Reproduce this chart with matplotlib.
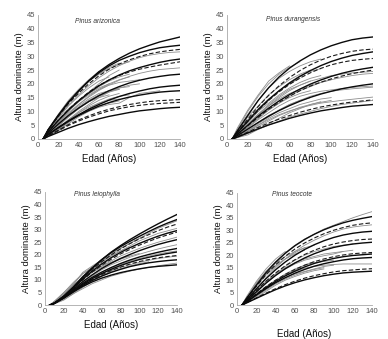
import matplotlib
matplotlib.use("Agg")
import matplotlib.pyplot as plt

AGES = [5, 10, 20, 30, 40, 50, 60, 70, 80, 90, 100, 110, 120, 130, 140]
XTICKS = [0, 20, 40, 60, 80, 100, 120, 140]
YTICKS = [0, 5, 10, 15, 20, 25, 30, 35, 40, 45]
TITLES = ["Pinus arizonica", "Pinus durangensis", "Pinus leiophylla", "Pinus teocote"]
XLABEL = "Edad (Años)"
YLABEL = "Altura dominante (m)"

# ---- Pinus arizonica ----
ari_solid = [
    [0, 3.3, 8.5, 13.3, 17.4, 21.1, 24.4, 27.0, 29.2, 31.1, 32.7, 34.0, 35.2, 36.1, 37.0],
    [0, 3.4, 8.6, 13.4, 17.4, 21.0, 24.0, 26.5, 28.5, 30.0, 31.3, 32.3, 33.1, 33.6, 34.0],
    [0, 2.6, 6.7, 10.5, 13.8, 16.7, 19.3, 21.4, 23.2, 24.7, 25.9, 26.9, 27.8, 28.5, 29.0],
    [0, 2.1, 5.4, 8.5, 11.2, 13.6, 15.7, 17.5, 19.0, 20.3, 21.3, 22.1, 22.7, 23.2, 23.5],
    [0, 1.6, 4.2, 6.6, 8.8, 10.8, 12.5, 14.1, 15.4, 16.5, 17.4, 18.2, 18.8, 19.2, 19.5],
    [0, 1.6, 4.0, 6.4, 8.5, 10.3, 11.9, 13.2, 14.3, 15.2, 15.9, 16.5, 17.0, 17.3, 17.5],
    [0, 0.9, 2.4, 3.9, 5.2, 6.3, 7.3, 8.2, 8.9, 9.6, 10.2, 10.6, 11.0, 11.3, 11.5],
]
ari_dashed = [
    [0, 3.2, 8.2, 12.8, 16.6, 20.0, 22.9, 25.3, 27.2, 28.7, 29.9, 30.9, 31.6, 32.1, 32.5],
    [0, 2.6, 6.8, 10.7, 14.0, 17.0, 19.4, 21.4, 23.0, 24.3, 25.3, 26.1, 26.8, 27.4, 28.0],
    [0, 1.2, 3.2, 5.2, 6.9, 8.4, 9.7, 10.8, 11.7, 12.5, 13.1, 13.6, 13.9, 14.1, 14.3],
    [0, 1.1, 3.0, 4.9, 6.5, 7.9, 9.1, 10.2, 11.0, 11.7, 12.2, 12.6, 12.9, 13.1, 13.3],
]
ari_obs = [
    [0, 3.0, 7.8, 12.2, 16.0, 19.3, 22.2, 24.6, 26.6, 28.2, 29.5, 30.4, 31.0, 31.4, 31.6],
    [0, 2.3, 6.0, 9.5, 12.5, 15.2, 17.6, 19.6, 21.3, 22.7, 23.8, 24.6, 25.2, 25.5, 25.8],
    [0, 2, 6, 10, 14, 17, 20, 23, 25],
    [0, 3, 8, 13, 17, 21, 23.5, 26, 27.5],
    [0, 1.5, 5, 9, 12.5, 15.5, 18, 20, 21.5, 22.5],
    [0, 2.5, 7, 11, 14, 16.5, 18.5, 20],
    [0, 1.5, 4, 7, 10, 12.5, 15, 17, 18.5, 19.5, 20],
    [0, 1, 3.5, 6.5, 9.5, 12, 14, 15.5, 16.5],
    [0, 2, 5.5, 9, 12, 14.5, 16.5, 17.5, 18],
    [0, 1, 3, 5.5, 8, 10, 11.5, 12.5, 13, 15, 16.5, 17, 17.5],
    [0, 1.5, 4.5, 8, 11, 13.5, 15.5, 17, 18],
    [0, 2, 6, 10, 13.5, 16.5, 19, 21, 22.5, 23.5],
    [0, 3, 8.5, 13.5, 17.5, 21, 23.5, 25.5, 27, 28],
    [0, 1, 3, 6, 8.5, 11, 13, 14.5, 15.5, 16],
    [0, 2, 5, 8, 11, 13.5, 15, 16],
    [0, 1.5, 4, 7, 9.5, 11.5, 13, 14, 14.5],
    [0, 2.5, 6.5, 10.5, 13.5, 16, 18, 19.5, 20.5, 21, 21.5],
    [0, 2.8, 7.5, 12, 15.5, 18.5, 21, 22.5],
    [0, 1.8, 5, 8.5, 11.5, 14, 16, 17.5, 18.5, 19],
    [0, 3.5, 9, 14, 18, 21.5, 24.5],
    [0, 1.2, 3.5, 6, 8.5, 10.5, 12, 13, 13.8],
]

# ---- Pinus durangensis ----
dur_solid = [
    [0, 3.0, 8.5, 14.0, 18.6, 22.5, 25.7, 28.3, 30.5, 32.3, 33.8, 35.0, 36.0, 36.6, 37.0],
    [0, 2.3, 6.5, 10.7, 14.3, 17.5, 20.3, 22.7, 24.8, 26.6, 28.1, 29.3, 30.3, 31.0, 31.6],
    [0, 1.7, 5.0, 8.3, 11.2, 13.8, 16.1, 18.1, 19.9, 21.4, 22.7, 23.8, 24.7, 25.4, 26.0],
    [0, 1.2, 3.6, 6.0, 8.3, 10.3, 12.1, 13.7, 15.1, 16.3, 17.3, 18.2, 18.9, 19.5, 20.0],
    [0, 0.7, 2.2, 3.7, 5.1, 6.3, 7.5, 8.5, 9.4, 10.2, 10.8, 11.4, 11.9, 12.2, 12.5],
]
dur_dashed = [
    [0, 2.5, 7.2, 11.8, 15.8, 19.3, 22.3, 24.8, 26.9, 28.6, 30.0, 31.0, 31.8, 32.3, 32.6],
    [0, 2.2, 6.4, 10.4, 14.0, 17.1, 19.8, 22.1, 24.0, 25.6, 26.9, 27.8, 28.5, 28.9, 29.2],
    [0, 1.6, 4.8, 7.9, 10.8, 13.3, 15.5, 17.5, 19.2, 20.6, 21.8, 22.8, 23.7, 24.4, 25.0],
    [0, 0.8, 2.5, 4.2, 5.8, 7.2, 8.5, 9.7, 10.7, 11.6, 12.3, 12.9, 13.4, 13.8, 14.2],
]
dur_obs = [
    [0, 3.5, 10, 15.5, 20, 23.5, 26, 28],
    [0, 3, 9, 14, 18.5, 22, 24.5, 26.5, 28, 29],
    [0, 2, 6, 10, 14, 17.5, 20.5, 23, 24.5, 25.5],
    [0, 1.5, 5, 8.5, 12, 15, 17.5, 19.5, 21, 22, 23, 23.5, 24, 24.2, 24.5],
    [0, 1.5, 4.5, 7.5, 10.5, 13, 15.5, 17.5, 19, 20.5, 21.5, 22.3, 23, 23.5, 23.8],
    [0, 1, 3.5, 6, 8.5, 10.5, 12.5, 14, 15.5, 16.5, 17.3, 17.8, 18.2, 18.5, 18.8],
    [0, 1.2, 4, 7, 9.5, 12, 14, 15.5, 16.5, 17.3, 17.8, 18.3, 18.7, 19.0, 19.2],
    [0, 0.8, 2.8, 5, 7, 8.8, 10.2, 11.3, 12.2, 13, 13.5, 14, 14.4, 14.8, 15.2],
    [0, 0.5, 2, 3.5, 5, 6.5, 8, 9, 10, 11, 11.8, 12.5, 13, 13.5, 14],
    [0, 2.5, 7, 11, 14.5, 17.5, 20, 22],
    [0, 2, 5.5, 9, 12, 14.5, 16.5, 18, 19.5, 20.5, 21.5],
    [0, 1, 3, 5.5, 8, 10.5, 12.5, 14, 15],
    [0, 0.5, 1.5, 3.5, 5.5, 7.5, 9.5, 11, 12.5, 13.5],
    [0, 1.5, 5, 9, 12.5, 15.5, 18, 19.5, 21],
    [0, 2.5, 8, 12, 16, 19, 21.5, 23.5, 25],
    [0, 1, 3, 5, 7.5, 9.5, 11, 12.5, 13.5, 14.5, 15],
    [0, 4, 10.5, 16, 21, 24, 26.5],
    [0, 1.8, 6, 10, 13, 16, 18.5, 20.5, 22, 23],
    [0, 0.8, 2.5, 4.5, 6.5, 8.5, 10, 11.5, 12.5, 13.3, 14],
    [0, 1.3, 4.2, 7.5, 10.5, 13, 15, 16.5, 17.5],
]

# ---- Pinus leiophylla ----
lei_solid = [
    [0, 0.8, 3.5, 7.0, 11.0, 14.6, 18.0, 21.0, 23.6, 26.0, 28.2, 30.3, 32.3, 34.2, 36.0],
    [0, 0.8, 3.6, 7.2, 11.2, 14.8, 18.0, 20.8, 23.2, 25.3, 27.3, 29.2, 31.0, 32.6, 34.0],
    [0, 0.8, 3.4, 6.8, 10.3, 13.5, 16.3, 18.8, 20.9, 22.8, 24.5, 26.0, 27.4, 28.6, 29.6],
    [0, 0.7, 3.2, 6.2, 9.3, 12.0, 14.5, 16.6, 18.5, 20.1, 21.6, 22.9, 24.1, 25.1, 26.0],
    [0, 0.7, 3.0, 5.8, 8.6, 11.0, 13.1, 14.9, 16.5, 17.9, 19.1, 20.1, 21.0, 21.8, 22.5],
    [0, 0.7, 3.0, 5.6, 8.2, 10.5, 12.5, 14.2, 15.7, 17.0, 18.1, 19.0, 19.8, 20.5, 21.1],
    [0, 0.7, 2.9, 5.4, 7.8, 9.8, 11.5, 13.0, 14.2, 15.3, 16.1, 16.8, 17.3, 17.7, 18.0],
    [0, 0.7, 2.8, 5.2, 7.4, 9.2, 10.7, 11.9, 12.9, 13.7, 14.4, 15.0, 15.4, 15.7, 16.0],
]
lei_dashed = [
    [0, 0.8, 3.5, 7.0, 10.8, 14.2, 17.2, 19.9, 22.3, 24.4, 26.3, 28.0, 29.6, 31.0, 32.2],
    [0, 0.8, 3.4, 6.6, 10.0, 13.1, 15.8, 18.2, 20.3, 22.1, 23.8, 25.3, 26.7, 27.9, 29.0],
    [0, 0.7, 3.0, 5.5, 8.0, 10.2, 12.1, 13.7, 15.1, 16.3, 17.3, 18.1, 18.8, 19.3, 19.7],
]
lei_obs = [
    [0, 1, 4, 8, 13, 15.5, 18, 20.5, 22.5, 24.5, 26.5],
    [0, 1.5, 5, 8.5, 12.5, 15, 17.5, 19.5, 21.5, 23],
    [0, 1, 3.5, 7, 10, 13, 15.5, 17.5, 19.5, 21, 22.5, 23.8, 25, 26, 27],
    [0, 0.8, 3, 6, 9, 11.5, 14, 16, 17.5, 19, 20.2, 21.3, 22.3, 23.2, 24],
    [0, 0.5, 2.5, 5, 8, 10.5, 12.5, 14.5, 16, 17.5, 18.5, 19.5, 20.3, 21, 21.5],
    [0, 1.2, 4.5, 8, 11, 13.5, 15.5, 17, 18.5, 19.5, 20.5],
    [0, 0.5, 2, 4.5, 7, 9.5, 11.5, 13, 14.5, 15.5, 16.5, 17.2],
    [0, 1, 3.5, 6.5, 9, 11, 12.5, 14, 15],
    [0, 1.5, 4.5, 7.5, 11, 14, 17, 19.5, 21.5, 23.5, 25.5, 27, 28.5, 29.5, 30.5],
    [0, 1, 3.8, 7.5, 11.5, 14.5, 17.5, 20, 22.5, 24.5, 26.5, 28.5, 30.5, 32, 33.5],
    [0, 0.8, 2.5, 5, 7.5, 9.8, 11.8, 13.5, 15, 16, 17, 17.8, 18.5, 19, 19.5],
    [0, 0.6, 2.2, 4.5, 6.5, 8.5, 10, 11.5, 12.5, 13.5, 14.3, 15, 15.6, 16.2, 16.7],
    [0, 1.5, 5, 9, 12.5, 14.5, 16.5, 18],
    [0, 0.8, 3, 6.5, 10.5, 13, 15, 16.8, 18.2, 19.5],
]

# ---- Pinus teocote ----
teo_solid = [
    [0, 2.8, 8.0, 13.0, 17.2, 20.8, 23.8, 26.3, 28.4, 30.2, 31.7, 33.0, 34.0, 34.8, 35.5],
    [0, 2.2, 6.5, 10.6, 14.2, 17.3, 20.0, 22.3, 24.2, 25.8, 27.1, 28.1, 28.8, 29.3, 29.6],
    [0, 1.8, 5.3, 8.8, 11.9, 14.6, 16.9, 18.9, 20.6, 22.0, 23.1, 23.9, 24.5, 24.9, 25.2],
    [0, 1.4, 4.2, 7.0, 9.5, 11.7, 13.6, 15.3, 16.7, 17.8, 18.7, 19.4, 19.9, 20.2, 20.5],
    [0, 1.3, 4.0, 6.6, 9.0, 11.0, 12.8, 14.3, 15.6, 16.6, 17.4, 18.1, 18.6, 18.9, 19.1],
    [0, 0.9, 2.7, 4.5, 6.2, 7.7, 9.0, 10.1, 11.0, 11.8, 12.4, 12.9, 13.2, 13.4, 13.6],
]
teo_dashed = [
    [0, 2.6, 7.5, 12.2, 16.2, 19.6, 22.5, 24.9, 26.9, 28.6, 30.0, 31.1, 32.0, 32.6, 33.0],
    [0, 2.0, 5.9, 9.6, 12.9, 15.8, 18.2, 20.3, 22.0, 23.4, 24.5, 25.3, 25.9, 26.3, 26.5],
    [0, 1.5, 4.5, 7.4, 10.0, 12.3, 14.3, 16.0, 17.4, 18.5, 19.4, 20.1, 20.6, 20.9, 21.1],
    [0, 1.0, 2.9, 4.8, 6.6, 8.2, 9.6, 10.8, 11.8, 12.6, 13.3, 13.8, 14.1, 14.4, 14.6],
]
teo_obs = [
    [0, 3, 8.5, 13.5, 17.5, 21, 24, 26.5, 28.5, 30.5, 32, 33.5, 35, 36.3, 37.5],
    [0, 2, 6.5, 11, 15, 18.5, 21.5, 24, 26, 27.8, 29.3, 30.5, 31.3, 31.8, 32.2],
    [0, 2.5, 7.5, 12, 15.5, 18.5, 21, 23],
    [0, 1.5, 5, 9, 12.5, 15.5, 18, 20, 21.5, 22.5, 23.5, 24, 24.5],
    [0, 3, 9, 13.5, 17, 19.5, 21.5, 23, 24],
    [0, 2, 6, 9.5, 12.5, 15, 17, 18.5, 19.5, 20.5, 21, 21.5],
    [0, 1, 4, 7, 10, 12.5, 14.5, 16, 17, 17.5, 18],
    [0, 1.5, 4.5, 7.5, 10, 12, 13.5, 14.8, 15.5, 16, 16.3, 16.5, 16.5, 16.5, 16.5],
    [0, 0.8, 3, 5.5, 8, 10, 11.5, 12.8, 13.8, 14.5],
    [0, 1.2, 4, 6.5, 9, 11, 12.5, 13.5, 14.5, 15.5, 16],
    [0, 2.5, 8, 12.5, 16, 18.5, 20.5, 22],
    [0, 1, 3.5, 6.5, 9.5, 12, 14, 16, 17.5],
    [0, 3.5, 9.5, 14.5, 18.5, 21.5],
    [0, 1.8, 5.5, 9, 12, 14.5, 16.5, 18, 19, 19.8, 20.5, 21.5, 22],
    [0, 1.2, 3.5, 6, 8.5, 10.5, 12, 13.3, 14.3, 15],
]

PANELS = [
    (ari_solid, ari_dashed, ari_obs),
    (dur_solid, dur_dashed, dur_obs),
    (lei_solid, lei_dashed, lei_obs),
    (teo_solid, teo_dashed, teo_obs),
]

# axes rectangles in figure fractions
RECTS = [
    [0.098, 0.590, 0.366, 0.366],
    [0.585, 0.590, 0.376, 0.366],
    [0.116, 0.100, 0.340, 0.334],
    [0.611, 0.100, 0.348, 0.331],
]
TITLE_POS = [(59, 42.5), (63, 43.5), (55, 44.0), (57, 44.5)]
XLABEL_PAD = [4, 4, 4, 10]

plt.rcParams['font.family'] = ['Liberation Sans', 'DejaVu Sans']
fig = plt.figure(figsize=(3.88, 3.39), dpi=100)

for i, (solid, dashed, obs) in enumerate(PANELS):
    ax = fig.add_axes(RECTS[i])
    for h in obs:
        ax.plot(AGES[:len(h)], h, color='#8e8e8e', lw=0.6, zorder=1)
    for h in dashed:
        ax.plot(AGES[:len(h)], h, color='#1a1a1a', lw=0.8, ls=(0, (4, 2)), zorder=2)
    for h in solid:
        ax.plot(AGES[:len(h)], h, color='#0a0a0a', lw=1.0, zorder=3)
    ax.set_xlim(0, 140)
    ax.set_ylim(0, 45)
    ax.set_xticks(XTICKS)
    ax.set_yticks(YTICKS)
    ax.tick_params(labelsize=5.5, labelcolor='#505050', length=0, pad=2)
    for s in ['top', 'right']:
        ax.spines[s].set_visible(False)
    for s in ['left', 'bottom']:
        ax.spines[s].set_color('#a8a8a8')
        ax.spines[s].set_linewidth(0.6)
    ax.set_xlabel(XLABEL, fontsize=7, color='#111111', labelpad=XLABEL_PAD[i])
    ax.set_ylabel(YLABEL, fontsize=6.8, color='#111111', labelpad=2)
    ax.text(TITLE_POS[i][0], TITLE_POS[i][1], TITLES[i], fontsize=4.8,
            style='italic', ha='center', va='center', color='#333333')

fig.savefig('out.png', dpi=100, facecolor='white')
